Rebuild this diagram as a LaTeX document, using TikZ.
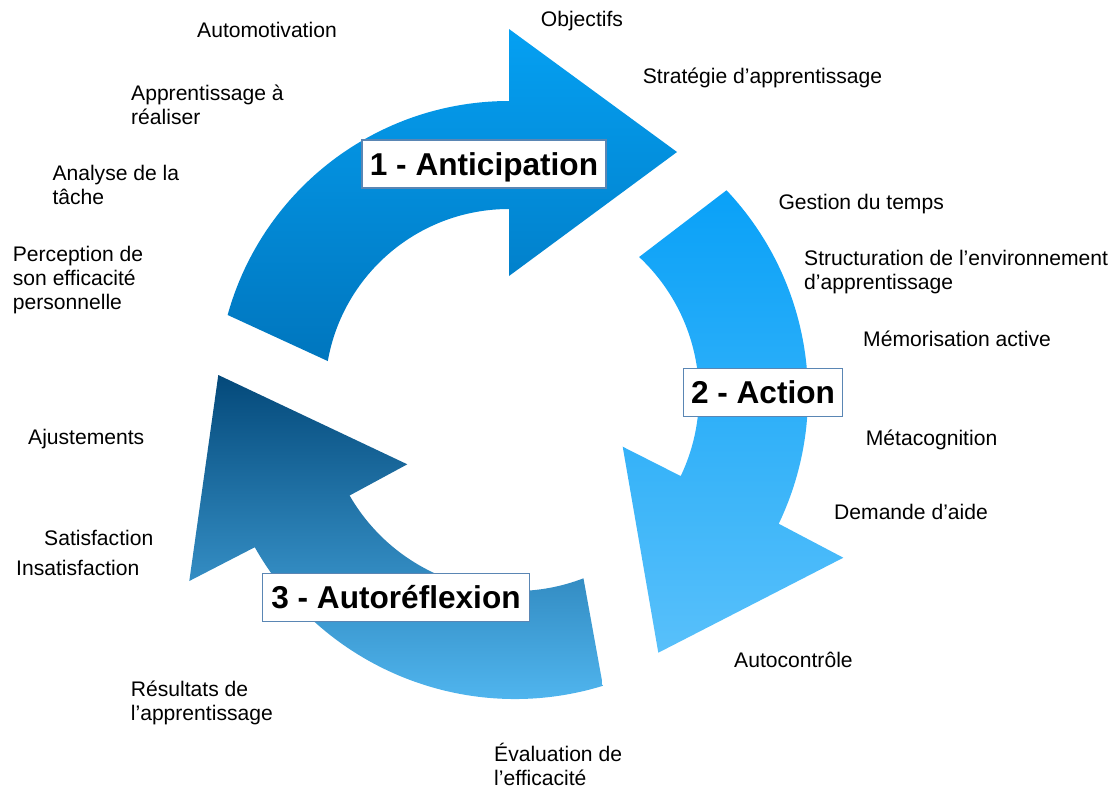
\documentclass[tikz,border=0pt]{standalone}
\usepackage{fontspec}
\setmainfont{Liberation Sans}[Ligatures=NoCommon]
\usetikzlibrary{calc}
\definecolor{aAtop}{HTML}{05A0F2}
\definecolor{aAbot}{HTML}{0076BE}
\definecolor{aBtop}{HTML}{09A1F8}
\definecolor{aBbot}{HTML}{58C0FA}
\definecolor{aCtop}{HTML}{04497A}
\definecolor{aCbot}{HTML}{56BEF8}
\definecolor{boxc}{HTML}{5A86B4}
\begin{document}
\begin{tikzpicture}[x=1pt,y=1pt,
  lbl/.style={font=\fontsize{21.1}{24}\selectfont, anchor=base west, inner sep=0pt, text=black},
  phase/.style={draw=boxc, line width=1.1pt, fill=white,
    font=\fontsize{31.6}{36}\selectfont\bfseries, inner xsep=0pt, inner ysep=0pt,
    text height=35pt, text depth=13pt, anchor=base}]
\useasboundingbox (0,0) rectangle (1115,-788);

\coordinate (c1) at (509,-393);
\coordinate (c2) at (510,-395);
\coordinate (c3) at (515,-400);

% arrow 1 - anticipation
\shade[top color=aAtop, bottom color=aAbot]
  ($(c1)+(164.5:292)$) arc[start angle=164.5, end angle=90, radius=292]
  -- (509,-29) -- (677,-152) -- (509,-276)
  -- ($(c1)+(90:184)$) arc[start angle=90, end angle=170, radius=184] -- cycle;

% arrow 2 - action
\shade[top color=aBtop, bottom color=aBbot]
  ($(c2)+(43.4:298)$) arc[start angle=43.4, end angle=-25.6, radius=298]
  -- (843.3,-557.7) -- (658.3,-652.7) -- (622.7,-446.7)
  -- ($(c2)+(-25.4:189)$) arc[start angle=-25.4, end angle=46.9, radius=189] -- cycle;

% arrow 3 - autoreflexion
\shade[top color=aCtop, bottom color=aCbot]
  ($(c3)+(-72.9:299)$) arc[start angle=-72.9, end angle=-150.5, radius=299]
  -- (189.3,-581) -- (218.3,-375) -- (407.3,-464.3)
  -- ($(c3)+(-150:191)$) arc[start angle=-150, end angle=-69, radius=191] -- cycle;

% phase labels
\node[phase, minimum width=244] (antic) at (484,-175) {1 - Anticipation};
\node[phase, minimum width=159.4] (action) at (763,-403.3) {2 - Action};
\node[phase, minimum width=266.6] (autoref) at (396,-608.3) {3 - Autoréflexion};

% texts
\node[lbl] (automot) at (197,-37.7) {Automotivation};
\node[lbl] (objectifs) at (540.7,-26) {Objectifs};
\node[lbl] (strategie) at (642.7,-83.3) {Stratégie d’apprentissage};
\node[lbl] (apprA) at (131,-100) {Apprentissage à};
\node[lbl] (apprB) at (131,-124) {réaliser};
\node[lbl] (analyseA) at (52.3,-180) {Analyse de la};
\node[lbl] (analyseB) at (52.3,-204) {tâche};
\node[lbl] (percepA) at (12.7,-261.7) {Perception de};
\node[lbl] (percepB) at (12.7,-285.7) {son efficacité};
\node[lbl] (percepC) at (12.7,-309.7) {personnelle};
\node[lbl] (gestion) at (778.3,-209.3) {Gestion du temps};
\node[lbl] (structA) at (804,-265.7) {Structuration de l’environnement};
\node[lbl] (structB) at (804,-289.7) {d’apprentissage};
\node[lbl] (memo) at (863,-346.7) {Mémorisation active};
\node[lbl] (meta) at (865.7,-445) {Métacognition};
\node[lbl] (demande) at (834,-519.3) {Demande d’aide};
\node[lbl] (autoc) at (734,-667.3) {Autocontrôle};
\node[lbl] (ajust) at (28,-444) {Ajustements};
\node[lbl] (satis) at (44,-545) {Satisfaction};
\node[lbl] (insatis) at (16,-575) {Insatisfaction};
\node[lbl] (resultA) at (130.7,-696.7) {Résultats de};
\node[lbl] (resultB) at (130.7,-720.7) {l’apprentissage};
\node[lbl] (evalA) at (494,-761.7) {Évaluation de};
\node[lbl] (evalB) at (494,-785.7) {l’efficacité};
\end{tikzpicture}
\end{document}
